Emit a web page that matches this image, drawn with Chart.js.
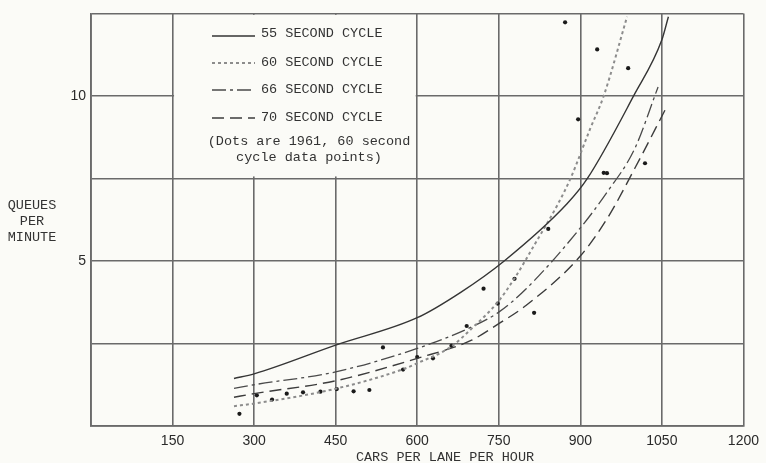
<!DOCTYPE html>
<html>
<head>
<meta charset="utf-8">
<script src="https://cdn.jsdelivr.net/npm/chart.js@4"></script>
<style>
  html, body { margin: 0; padding: 0; background: #fbfbf7; }
  #wrap { width: 766px; height: 463px; }
</style>
</head>
<body>
<div id="wrap"><canvas id="queues" width="766" height="463"></canvas></div>
<script>
// cycle lengths (legend text)
const cycleNames = ["55 SECOND CYCLE", "60 SECOND CYCLE", "66 SECOND CYCLE", "70 SECOND CYCLE"];

// curves: cars per lane per hour -> queues per minute
const cycle55X = [263, 300, 450, 600, 680, 760, 876, 913, 998, 1050, 1062];
const cycle55Y = [1.44, 1.58, 2.45, 3.28, 4.05, 5.0, 6.74, 7.5, 10.0, 11.7, 12.4];

const cycle60X = [263, 300, 450, 574, 600, 662, 700, 748, 780, 816, 858, 882, 918, 943, 986];
const cycle60Y = [0.6, 0.68, 1.13, 1.72, 1.9, 2.4, 2.95, 3.75, 4.5, 5.5, 6.7, 7.5, 9.0, 10.0, 12.4];

const cycle66X = [263, 300, 450, 600, 700, 750, 800, 900, 950, 1000, 1043];
const cycle66Y = [1.14, 1.25, 1.64, 2.35, 3.0, 3.45, 4.15, 6.0, 7.1, 8.4, 10.27];

const cycle70X = [263, 300, 450, 600, 700, 750, 800, 900, 950, 1000, 1058];
const cycle70Y = [0.87, 0.98, 1.37, 2.05, 2.6, 3.1, 3.65, 5.15, 6.3, 7.8, 9.64];

// 1961, 60 second cycle data points
const dotX = [273, 305, 333, 360, 390, 422, 452, 483, 512, 537, 574, 600, 629, 663, 691, 722, 748, 779, 815, 841, 872, 896, 931, 943, 949, 988, 1019];
const dotY = [0.37, 0.93, 0.80, 0.98, 1.02, 1.04, 1.12, 1.05, 1.09, 2.38, 1.71, 2.09, 2.05, 2.43, 3.03, 4.16, 3.71, 4.46, 3.43, 5.97, 12.23, 9.29, 11.41, 7.67, 7.66, 10.84, 7.96];

// tick labels
const xTickValues = [0, 150, 300, 450, 600, 750, 900, 1050, 1200];
const xTickLabels = [150, 300, 450, 600, 750, 900, 1050, 1200];
const yTickValues = [0, 2.5, 5, 7.5, 10, 12.5];
const yTickLabels = [5, 10];

const yTitle = ["QUEUES", "PER", "MINUTE"];
const xTitle = "CARS PER LANE PER HOUR";
const dotNote = ["(Dots are 1961, 60 second", "cycle data points)"];

function pts(xs, ys) {
  return xs.map((x, i) => ({ x: x, y: ys[i] }));
}

const typeFont = '13.5px "Liberation Mono", "Courier New", monospace';
const ink = "#333";
const gridColor = "#6a6a6a";

const lineStyles = [
  { color: "#353535", width: 1.4, dash: [] },
  { color: "#8c8c8c", width: 2, dash: [3, 3] },
  { color: "#4a4a4a", width: 1.3, dash: [14, 4, 3, 4] },
  { color: "#3c3c3c", width: 1.4, dash: [12, 6] },
];

const curveData = [
  pts(cycle55X, cycle55Y),
  pts(cycle60X, cycle60Y),
  pts(cycle66X, cycle66Y),
  pts(cycle70X, cycle70Y),
];

const datasets = curveData.map((d, i) => ({
  label: cycleNames[i],
  data: d,
  borderColor: lineStyles[i].color,
  borderWidth: lineStyles[i].width,
  borderDash: lineStyles[i].dash,
  pointRadius: 0,
  cubicInterpolationMode: "monotone",
  fill: false,
}));

datasets.push({
  label: "1961 data",
  data: pts(dotX, dotY),
  showLine: false,
  pointRadius: 2.1,
  pointBackgroundColor: "#1a1a1a",
  pointBorderWidth: 0,
});

const paperPlugin = {
  id: "paper",
  beforeDraw(chart) {
    const ctx = chart.ctx;
    ctx.save();
    ctx.fillStyle = "#fbfbf7";
    ctx.fillRect(0, 0, chart.width, chart.height);
    ctx.restore();
  },
  beforeDatasetsDraw(chart) {
    const ctx = chart.ctx;
    const xs = chart.scales.x, ys = chart.scales.y;
    // blank box for the legend, over the grid
    const bx1 = xs.getPixelForValue(150) + 1.5;
    const bx2 = xs.getPixelForValue(600) - 1.5;
    const by1 = ys.getPixelForValue(12.5) + 1.5;
    const by2 = ys.getPixelForValue(7.5) - 2;
    ctx.save();
    ctx.fillStyle = "#fbfbf7";
    ctx.fillRect(bx1, by1, bx2 - bx1, by2 - by1);

    const rowY = [33, 62, 89, 117];
    ctx.font = typeFont;
    ctx.textBaseline = "middle";
    cycleNames.forEach((name, i) => {
      ctx.beginPath();
      ctx.strokeStyle = lineStyles[i].color;
      ctx.lineWidth = lineStyles[i].width;
      ctx.setLineDash(lineStyles[i].dash);
      const ly = rowY[i] + (i == 0 ? 3 : 1);
      ctx.moveTo(212, ly);
      ctx.lineTo(255, ly);
      ctx.stroke();
      ctx.setLineDash([]);
      ctx.fillStyle = ink;
      ctx.textAlign = "left";
      ctx.fillText(name, 261, rowY[i]);
    });
    ctx.textAlign = "center";
    ctx.fillText(dotNote[0], 309, 141);
    ctx.fillText(dotNote[1], 309, 157);
    ctx.restore();
  },
  afterDraw(chart) {
    const ctx = chart.ctx;
    ctx.save();
    ctx.font = typeFont;
    ctx.fillStyle = ink;
    ctx.textAlign = "center";
    ctx.textBaseline = "middle";
    yTitle.forEach((t, i) => ctx.fillText(t, 32, 205 + i * 16));
    ctx.fillText(xTitle, 445, 457);
    ctx.restore();
  },
};

new Chart(document.getElementById("queues"), {
  type: "line",
  data: { datasets: datasets },
  options: {
    responsive: false,
    animation: false,
    layout: { padding: { top: 12, right: 19, left: 0, bottom: 0 } },
    plugins: {
      legend: { display: false },
      tooltip: { enabled: false },
    },
    scales: {
      x: {
        type: "linear",
        min: 0,
        max: 1200,
        afterBuildTicks: (s) => { s.ticks = xTickValues.map((v) => ({ value: v })); },
        afterFit: (s) => { s.height = 37; },
        ticks: {
          autoSkip: false,
          maxRotation: 0,
          padding: 7,
          color: "#2a2a2a",
          font: { family: '"Liberation Sans", Arial, sans-serif', size: 14 },
          callback: (v) => (xTickLabels.includes(v) ? String(v) : ""),
        },
        grid: { color: gridColor, lineWidth: 1.6, drawTicks: false },
        border: { color: gridColor, width: 1.8 },
      },
      y: {
        type: "linear",
        min: 0,
        max: 12.5,
        afterBuildTicks: (s) => { s.ticks = yTickValues.map((v) => ({ value: v })); },
        afterFit: (s) => { s.width = 91; },
        ticks: {
          padding: 5,
          color: "#2a2a2a",
          font: { family: '"Liberation Sans", Arial, sans-serif', size: 14 },
          callback: (v) => (yTickLabels.includes(v) ? String(v) : ""),
        },
        grid: { color: gridColor, lineWidth: 1.6, drawTicks: false },
        border: { color: gridColor, width: 1.8 },
      },
    },
  },
  plugins: [paperPlugin],
});
</script>
</body>
</html>
